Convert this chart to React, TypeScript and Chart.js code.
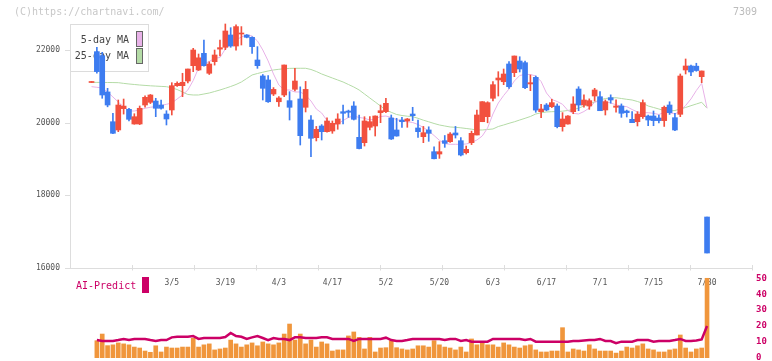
import React, { useEffect, useRef } from 'react';
import { Chart, registerables } from 'chart.js';

Chart.register(...registerables);

// ---- data (index 0 = 2/10, index 115 = 7/30) ----
const OPEN = [
  21110, 21960, 21849, 20850, 20030, 19802, 20390, 20372, 19967, 19967,
  20490, 20565, 20600, 20490, 20242, 20353, 21022, 21022, 21151, 21573,
  21455, 21913, 21364, 21683, 22030, 22080, 22419, 22115, 22446, 22419,
  22355, 21730, 21290, 21180, 20793, 20580, 20766, 20610, 20923, 20656,
  20427, 20077, 19590, 19912, 19755, 19774, 19967, 20306, 20325, 20463,
  19600, 19452, 19876, 19912, 20280, 20306, 20132, 19802, 20077, 20050,
  20242, 19857, 19618, 19802, 19204, 19140, 19507, 19480, 19720, 19507,
  19176, 19452, 19664, 20030, 20168, 20675, 21180, 21132, 21620, 21380,
  21702, 21656, 21070, 21253, 20306, 20490, 20444, 20463, 19894, 19967,
  20306, 20931, 20490, 20463, 20738, 20719, 20353, 20692, 20427, 20463,
  20325, 20096, 20030, 20168, 20187, 20187, 20132, 20060, 20490, 20141,
  20234, 21455, 21565, 21560, 21270, 17405,
];
const HIGH = [
  21125, 22080, 21942, 20950, 20262, 20628, 20655, 20400, 20250, 20463,
  20740, 20780, 20675, 20628, 20333, 21105, 21130, 21364, 21482, 22051,
  21895, 22281, 21680, 22005, 22281, 22722, 22620, 22700, 22650, 22430,
  22370, 22098, 21330, 21300, 20970, 20720, 21592, 20857, 21500, 20990,
  21140, 20200, 19900, 19950, 20140, 20050, 20250, 20490, 20350, 20582,
  20215, 20168, 20170, 20190, 20490, 20675, 20215, 20124, 20150, 20120,
  20427, 20077, 19900, 19890, 19340, 19480, 19650, 19730, 19900, 19590,
  19360, 19770, 20350, 20582, 20580, 21132, 21408, 21482, 21683, 21840,
  21820, 21700, 21317, 21290, 20510, 20530, 20650, 20520, 20280, 20200,
  20719, 20994, 20770, 20660, 20950, 20860, 20630, 20770, 20630, 20520,
  20350, 20306, 20306, 20630, 20215, 20325, 20215, 20463, 20580, 20262,
  21345, 21758, 21590, 21640, 21427, 17405,
];
const LOW = [
  21110, 21364, 20675, 20440, 19700, 19755, 20240, 20050, 19960, 19950,
  20430, 20530, 20168, 20372, 19940, 20215, 21000, 20719, 21100, 21408,
  21440, 21560, 21330, 21590, 21840, 22015, 22080, 22000, 22143, 22340,
  21913, 21500, 20628, 20560, 20750, 20450, 20720, 20077, 20880, 19388,
  20298, 19066, 19500, 19526, 19740, 19710, 19821, 19967, 20150, 20077,
  19278, 19360, 19803, 19636, 20003, 20280, 19540, 19630, 19876, 19876,
  20060, 19600, 19452, 19490, 19003, 19020, 19324, 19460, 19580, 19085,
  19140, 19400, 19664, 20030, 20000, 20600, 20738, 21050, 20950, 21270,
  21400, 20940, 20885, 20290, 20140, 20330, 20420, 19860, 19770, 19960,
  20250, 20333, 20430, 20370, 20600, 20333, 20215, 20540, 20290, 20150,
  20160, 20003, 19912, 20120, 19920, 19920, 20000, 19900, 20230, 19780,
  20168, 21345, 21300, 21420, 21105, 16413,
];
const CLOSE = [
  21125, 21410, 20766, 20490, 19711, 20490, 20460, 20096, 20168, 20400,
  20702, 20766, 20400, 20400, 20105, 21022, 21088, 21116, 21482, 22005,
  21790, 21573, 21620, 21868, 22070, 22529, 22115, 22650, 22465, 22355,
  22098, 21573, 20950, 20580, 20920, 20683, 21592, 20427, 21151, 19645,
  20920, 19573, 19821, 19755, 20050, 19986, 20105, 20262, 20290, 20096,
  19290, 20050, 20030, 20187, 20333, 20537, 19554, 19636, 20030, 20105,
  20196, 19755, 19727, 19710, 19010, 19204, 19434, 19690, 19664, 19113,
  19268, 19710, 20215, 20582, 20555, 21050, 21234, 21344, 20994, 21840,
  21482, 20967, 21105, 20350, 20380, 20353, 20555, 19894, 20105, 20187,
  20518, 20490, 20628, 20610, 20904, 20333, 20582, 20628, 20463, 20262,
  20280, 20003, 20242, 20555, 20077, 20060, 20060, 20427, 20280, 19802,
  21289, 21565, 21400, 21440, 21427, 16413,
];
const MA5 = [
  20995, 20978, 20959, 20849, 20711, 20573, 20435, 20325, 20325, 20353,
  20400, 20427, 20449, 20477, 20510, 20545, 20656, 20766, 20904, 21165,
  21510, 21620, 21689, 21777, 21799, 22033, 22157, 22281, 22364, 22419,
  22391, 22254, 22006, 21703, 21344, 21041, 20904, 20904, 20849, 20849,
  20766, 20601, 20380, 20270, 20063, 19953, 19967, 20063, 20146, 20187,
  20146, 20124, 20077, 20105, 20174, 20187, 20146, 20086, 20055, 20030,
  20008, 19953, 19871, 19774, 19650, 19518, 19424, 19408, 19408, 19408,
  19416, 19457, 19526, 19636, 19857, 20242, 20545, 20752, 20931, 21152,
  21303, 21331, 21331, 21289, 21138, 20821, 20642, 20587, 20510, 20339,
  20262, 20242, 20311, 20407, 20565, 20609, 20587, 20545, 20496, 20457,
  20444, 20366, 20298, 20278, 20278, 20262, 20229, 20284, 20278, 20242,
  20325, 20477, 20656, 20890, 21088, 20408,
];
const MA25 = [
  21116, 21113, 21113, 21110, 21108, 21105, 21086, 21069, 21055, 21041,
  21030, 21019, 21011, 21003, 20995, 20964, 20917, 20849, 20780, 20766,
  20766, 20793, 20821, 20862, 20904, 20950, 21000, 21055, 21124, 21220,
  21317, 21358, 21394, 21427, 21455, 21474, 21488, 21499, 21502, 21502,
  21502, 21469, 21413, 21345, 21289, 21234, 21179, 21124, 21055, 20986,
  20904, 20793, 20683, 20573, 20463, 20353, 20289, 20229, 20201, 20182,
  20168, 20124, 20072, 20028, 19981, 19940, 19912, 19885, 19876, 19862,
  19843, 19824, 19802, 19802, 19816, 19830, 19898, 19940, 19986, 20028,
  20077, 20124, 20174, 20242, 20276, 20298, 20306, 20311, 20320, 20339,
  20366, 20402, 20463, 20518, 20573, 20628, 20669, 20683, 20691, 20669,
  20647, 20628, 20587, 20537, 20463, 20422, 20380, 20339, 20325, 20339,
  20380, 20422, 20471, 20518, 20565, 20400,
];
const VOLUME = [
  null, 10.7, 14.9, 7.6, 8.1, 9.3, 8.7, 8.1, 6.7, 6.1,
  4.2, 3.4, 7.5, 3.6, 6.7, 6.1, 6.1, 6.7, 6.7, 12.2,
  6.7, 8.1, 8.7, 4.9, 5.5, 6.1, 11.1, 8.7, 6.7, 8.1,
  9.3, 7.5, 9.9, 8.7, 8.1, 9.3, 14.9, 21.2, 11.1, 14.9,
  8.7, 11.1, 6.7, 9.9, 8.7, 4.2, 4.9, 4.9, 13.7, 16.2,
  12.8, 5.5, 12.8, 3.6, 6.1, 6.3, 10.7, 6.3, 5.5, 4.9,
  5.5, 7.5, 7.5, 6.7, 10.7, 8.1, 6.7, 6.1, 4.9, 6.7,
  3.6, 11.8, 8.1, 9.5, 8.1, 8.1, 6.7, 9.3, 8.1, 6.7,
  6.1, 7.5, 8.1, 4.9, 3.6, 3.6, 4.2, 4.2, 18.9, 3.6,
  5.5, 4.9, 4.2, 8.1, 5.5, 4.2, 4.2, 4.2, 2.9, 4.2,
  6.7, 6.1, 7.5, 8.7, 5.5, 4.9, 3.6, 3.6, 4.9, 5.5,
  14.3, 6.1, 3.6, 5.5, 6.1, 50,
];
const AI_PREDICT = [
  null, 11.1, 10.5, 10.5, 10.5, 11.1, 11.8, 11.1, 11.8, 11.8,
  11.8, 11.1, 10.5, 11.1, 11.1, 12.8, 13.2, 13.2, 13.2, 13.6,
  11.8, 12.4, 12.4, 12.4, 12.4, 13.0, 15.6, 13.6, 13.2, 11.8,
  12.8, 13.6, 12.4, 11.1, 12.4, 11.8, 11.8, 11.1, 12.8, 12.8,
  12.4, 12.4, 12.4, 12.8, 12.8, 11.8, 11.8, 11.8, 11.8, 10.5,
  11.8, 11.8, 11.8, 11.8, 11.8, 12.6, 11.1, 10.5, 10.5, 11.1,
  11.8, 11.8, 11.8, 11.8, 11.8, 11.8, 11.1, 11.8, 11.8, 10.5,
  11.1, 10.1, 10.1, 10.1, 10.1, 11.8, 11.8, 11.8, 11.8, 11.8,
  11.8, 11.1, 11.8, 10.1, 10.1, 10.1, 10.1, 10.1, 10.1, 10.1,
  10.5, 10.5, 10.8, 11.1, 11.1, 11.8, 10.5, 10.5, 9.1, 10.1,
  10.1, 10.1, 11.1, 11.1, 11.1, 10.1, 10.5, 10.5, 10.5, 11.1,
  11.8, 10.5, 10.5, 10.8, 11.5, 20,
];
const DATE_LABELS = ['3/5', '3/19', '4/3', '4/17', '5/2', '5/20', '6/3', '6/17', '7/1', '7/15', '7/30'];
const DATE_INDEX = [15, 25, 35, 45, 55, 65, 75, 85, 95, 105, 115];
const PRICE_TICKS = [16000, 18000, 20000, 22000];
const VOL_TICKS = [0, 10, 20, 30, 40, 50];
const COPYRIGHT = '(C)https://chartnavi.com/';
const CODE = '7309';

// ---- scale ranges ----
const X_MIN = -4.02;
const X_MAX = 123.4;
const PRICE_MIN = 13521;
const PRICE_MAX = 22997;
const VOL_MIN = -0.19;
const VOL_MAX = 216.4;

const RED = '#f2503e';
const BLUE = '#3d7cf0';
const PINK = '#e8b2e8';
const GREEN = '#b4dba6';
const MAGENTA = '#cc0066';
const ORANGE = '#f0963c';
const MONO = '"DejaVu Sans Mono", "Liberation Mono", monospace';

const overlay = {
  id: 'overlay',
  beforeDatasetsDraw(chart: any) {
    const { ctx, chartArea: ca, scales } = chart;
    const xs = scales.x;
    const yP = scales.yP;
    const yV = scales.yV;
    ctx.save();

    // header texts
    ctx.textBaseline = 'middle';
    ctx.font = `10px ${MONO}`;
    ctx.fillStyle = '#c8c8c8';
    ctx.textAlign = 'left';
    ctx.fillText(COPYRIGHT, 14, 12);
    ctx.fillStyle = '#bcbcbc';
    ctx.textAlign = 'right';
    ctx.fillText(CODE, 757, 12);

    // legend box
    ctx.strokeStyle = '#dcdcdc';
    ctx.lineWidth = 1;
    ctx.fillStyle = '#ffffff';
    ctx.fillRect(70.5, 24.5, 78, 47);
    ctx.strokeRect(70.5, 24.5, 78, 47);
    ctx.font = `10px ${MONO}`;
    ctx.fillStyle = '#444444';
    ctx.textAlign = 'right';
    ctx.fillText('5-day MA', 129, 40);
    ctx.fillText('25-day MA', 129, 56);
    ctx.fillStyle = PINK;
    ctx.fillRect(136.5, 31.5, 6, 15);
    ctx.fillStyle = GREEN;
    ctx.fillRect(136.5, 48.5, 6, 15);
    ctx.strokeStyle = '#666666';
    ctx.strokeRect(136.5, 31.5, 6, 15);
    ctx.strokeRect(136.5, 48.5, 6, 15);

    // axes
    const axisY = Math.round(yP.getPixelForValue(PRICE_TICKS[0])) + 0.5;
    ctx.strokeStyle = '#dddddd';
    ctx.lineWidth = 1;
    ctx.beginPath();
    ctx.moveTo(ca.left + 0.5, 24);
    ctx.lineTo(ca.left + 0.5, axisY);
    ctx.moveTo(ca.left, axisY);
    ctx.lineTo(ca.right, axisY);
    // price ticks
    PRICE_TICKS.forEach((t) => {
      const py = Math.round(yP.getPixelForValue(t)) + 0.5;
      ctx.moveTo(ca.left - 5, py);
      ctx.lineTo(ca.left, py);
    });
    // bottom ticks (11 equal divisions)
    const w = ca.right - ca.left;
    for (let k = 1; k <= 11; k++) {
      const px = Math.round(ca.left + (k * w) / 11) + 0.5;
      ctx.moveTo(px, axisY - 3.5);
      ctx.lineTo(px, axisY + 2);
    }
    ctx.stroke();

    // price labels
    ctx.font = `8px ${MONO}`;
    ctx.fillStyle = '#555555';
    ctx.textAlign = 'right';
    PRICE_TICKS.forEach((t) => {
      ctx.fillText(String(t), ca.left - 10, yP.getPixelForValue(t));
    });

    // date labels
    ctx.textAlign = 'center';
    DATE_LABELS.forEach((lab, k) => {
      ctx.fillText(lab, xs.getPixelForValue(DATE_INDEX[k]), axisY + 14);
    });

    // AI-Predict legend
    ctx.font = `10px ${MONO}`;
    ctx.fillStyle = MAGENTA;
    ctx.textAlign = 'left';
    ctx.fillText('AI-Predict', 76, 286);
    ctx.fillRect(142, 277, 7, 16);

    // right volume labels
    ctx.font = `bold 9px ${MONO}`;
    ctx.fillStyle = MAGENTA;
    ctx.textAlign = 'left';
    VOL_TICKS.forEach((t) => {
      ctx.fillText(String(t), ca.right + 4, yV.getPixelForValue(t));
    });

    ctx.restore();
  },
};

export default function App() {
  const ref = useRef<HTMLCanvasElement>(null);

  useEffect(() => {
    const idx = CLOSE.map((_, i) => i);
    const colors = idx.map((i) => (CLOSE[i] >= OPEN[i] ? RED : BLUE));
    const volIdx = idx.filter((i) => VOLUME[i] != null);
    const aiIdx = idx.filter((i) => AI_PREDICT[i] != null);

    const chart = new Chart(ref.current as HTMLCanvasElement, {
      type: 'bar',
      data: {
        datasets: [
          {
            type: 'bar',
            label: 'body',
            data: idx.map((i) => ({ x: i, y: [OPEN[i], CLOSE[i]] })) as any,
            backgroundColor: colors,
            barThickness: 5,
            minBarLength: 1,
            grouped: false,
            xAxisID: 'x',
            yAxisID: 'yP',
            order: 0,
          },
          {
            type: 'bar',
            label: 'wick',
            data: idx.map((i) => ({ x: i, y: [LOW[i], HIGH[i]] })) as any,
            backgroundColor: colors,
            barThickness: 1,
            minBarLength: 1,
            grouped: false,
            xAxisID: 'x',
            yAxisID: 'yP',
            order: 1,
          },
          {
            type: 'line',
            label: '5-day MA',
            data: idx.map((i) => ({ x: i, y: MA5[i] })) as any,
            borderColor: PINK,
            borderWidth: 1,
            pointRadius: 0,
            tension: 0,
            xAxisID: 'x',
            yAxisID: 'yP',
            order: 2,
          },
          {
            type: 'line',
            label: '25-day MA',
            data: idx.map((i) => ({ x: i, y: MA25[i] })) as any,
            borderColor: GREEN,
            borderWidth: 1,
            pointRadius: 0,
            tension: 0,
            xAxisID: 'x',
            yAxisID: 'yP',
            order: 3,
          },
          {
            type: 'line',
            label: 'AI-Predict',
            data: aiIdx.map((i) => ({ x: i, y: AI_PREDICT[i] })) as any,
            borderColor: MAGENTA,
            borderWidth: 2.5,
            pointRadius: 0,
            tension: 0,
            xAxisID: 'x',
            yAxisID: 'yV',
            order: 4,
          },
          {
            type: 'bar',
            label: 'Volume',
            data: volIdx.map((i) => ({ x: i, y: VOLUME[i] })) as any,
            backgroundColor: ORANGE,
            barThickness: 4,
            grouped: false,
            xAxisID: 'x',
            yAxisID: 'yV',
            order: 5,
          },
        ],
      },
      options: {
        responsive: false,
        animation: false,
        events: [],
        layout: { padding: { left: 70, right: 20, top: 14, bottom: 3 } },
        plugins: { legend: { display: false }, tooltip: { enabled: false } },
        scales: {
          x: { type: 'linear', min: X_MIN, max: X_MAX, offset: false, display: false },
          yP: { type: 'linear', position: 'left', min: PRICE_MIN, max: PRICE_MAX, display: false },
          yV: { type: 'linear', position: 'right', min: VOL_MIN, max: VOL_MAX, display: false },
        },
      } as any,
      plugins: [overlay],
    });
    return () => chart.destroy();
  }, []);

  return (
    <div style={{ position: 'absolute', left: 0, top: 0, width: 772, height: 361, background: '#ffffff' }}>
      <canvas ref={ref} width={772} height={361} style={{ display: 'block' }} />
    </div>
  );
}
